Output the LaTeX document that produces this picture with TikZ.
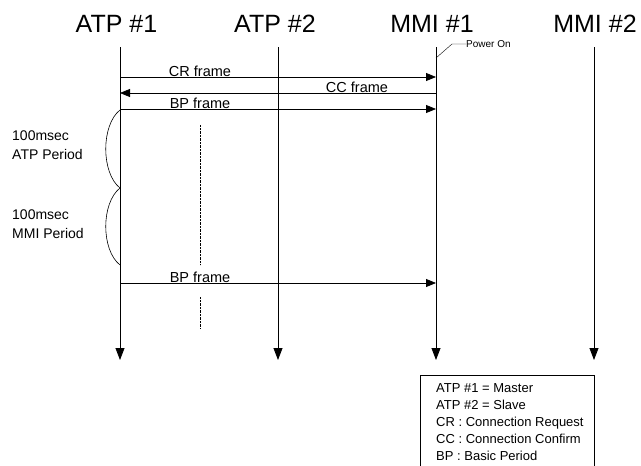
\documentclass[tikz,border=0pt]{standalone}
\usepackage{fontspec}
\setmainfont{Liberation Sans}
\usetikzlibrary{arrows.meta}
\tikzset{
  head/.style={font=\fontsize{25}{30}\selectfont, inner sep=0pt, anchor=base},
  msglabel/.style={font=\fontsize{14.5}{17}\selectfont, inner sep=0pt, anchor=base},
  life/.style={thick, -{Triangle[length=12pt,width=9pt]}},
  msg/.style={thick, -{Triangle[length=10pt,width=8pt]}}
}
\begin{document}
\begin{tikzpicture}[x=1pt,y=-1pt]
\useasboundingbox (0,0) rectangle (641,466);

% headers
\node[head] (atp1) at (116.5,32) {ATP \#1};
\node[head] (atp2) at (275,32) {ATP \#2};
\node[head] (mmi1) at (432,32) {MMI \#1};
\node[head] (mmi2) at (595,32) {MMI \#2};

% lifelines
\coordinate (atp1 top) at (120,47);  \coordinate (atp1 bot) at (120,360);
\coordinate (atp2 top) at (278,47);  \coordinate (atp2 bot) at (278,360);
\coordinate (mmi1 top) at (436,47);  \coordinate (mmi1 bot) at (436,360);
\coordinate (mmi2 top) at (594,47);  \coordinate (mmi2 bot) at (594,360);
\draw[life] (atp1 top) -- (atp1 bot);
\draw[life] (atp2 top) -- (atp2 bot);
\draw[life] (mmi1 top) -- (mmi1 bot);
\draw[life] (mmi2 top) -- (mmi2 bot);

% power on
\coordinate (pwr) at (436,58);
\node[font=\fontsize{10}{12}\selectfont, inner sep=0pt, anchor=west] (power) at (466,44) {Power On};
\draw (pwr) -- (452,44) -- (power.west);

% frames
\draw[msg] (atp1 top |- 0,77) -- (mmi1 top |- 0,77);
\node[msglabel] (cr) at (200,76) {CR frame};
\draw[msg] (mmi1 top |- 0,93) -- (atp1 top |- 0,93);
\node[msglabel] (cc) at (357,92) {CC frame};
\draw[msg] (atp1 top |- 0,109) -- (mmi1 top |- 0,109);
\node[msglabel] (bp1) at (200,108) {BP frame};
\draw[msg] (atp1 top |- 0,283) -- (mmi1 top |- 0,283);
\node[msglabel] (bp2) at (200,282) {BP frame};

% periods
\draw[semithick] (120,110) .. controls (101,125) and (101,173) .. (120,188);
\draw[semithick] (120,188) .. controls (101,203) and (101,250) .. (120,265);
\node[font=\fontsize{14}{19}\selectfont, inner sep=0pt, align=left, anchor=north west] (atp per) at (12,131) {100msec\\ATP Period};
\node[font=\fontsize{14}{19}\selectfont, inner sep=0pt, align=left, anchor=north west] (mmi per) at (12,210) {100msec\\MMI Period};

% dots
\draw[densely dotted] (200,125) -- (200,265);
\draw[densely dotted] (200,297) -- (200,328);

% legend
\draw[semithick] (420,468) -- (420,375) -- (594,375) -- (594,468);
\node[font=\fontsize{13}{17}\selectfont, inner sep=0pt, align=left, anchor=north west] (legend) at (436,383)
  {ATP \#1 = Master\\ATP \#2 = Slave\\CR : Connection Request\\CC : Connection Confirm\\BP : Basic Period};
\end{tikzpicture}
\end{document}
